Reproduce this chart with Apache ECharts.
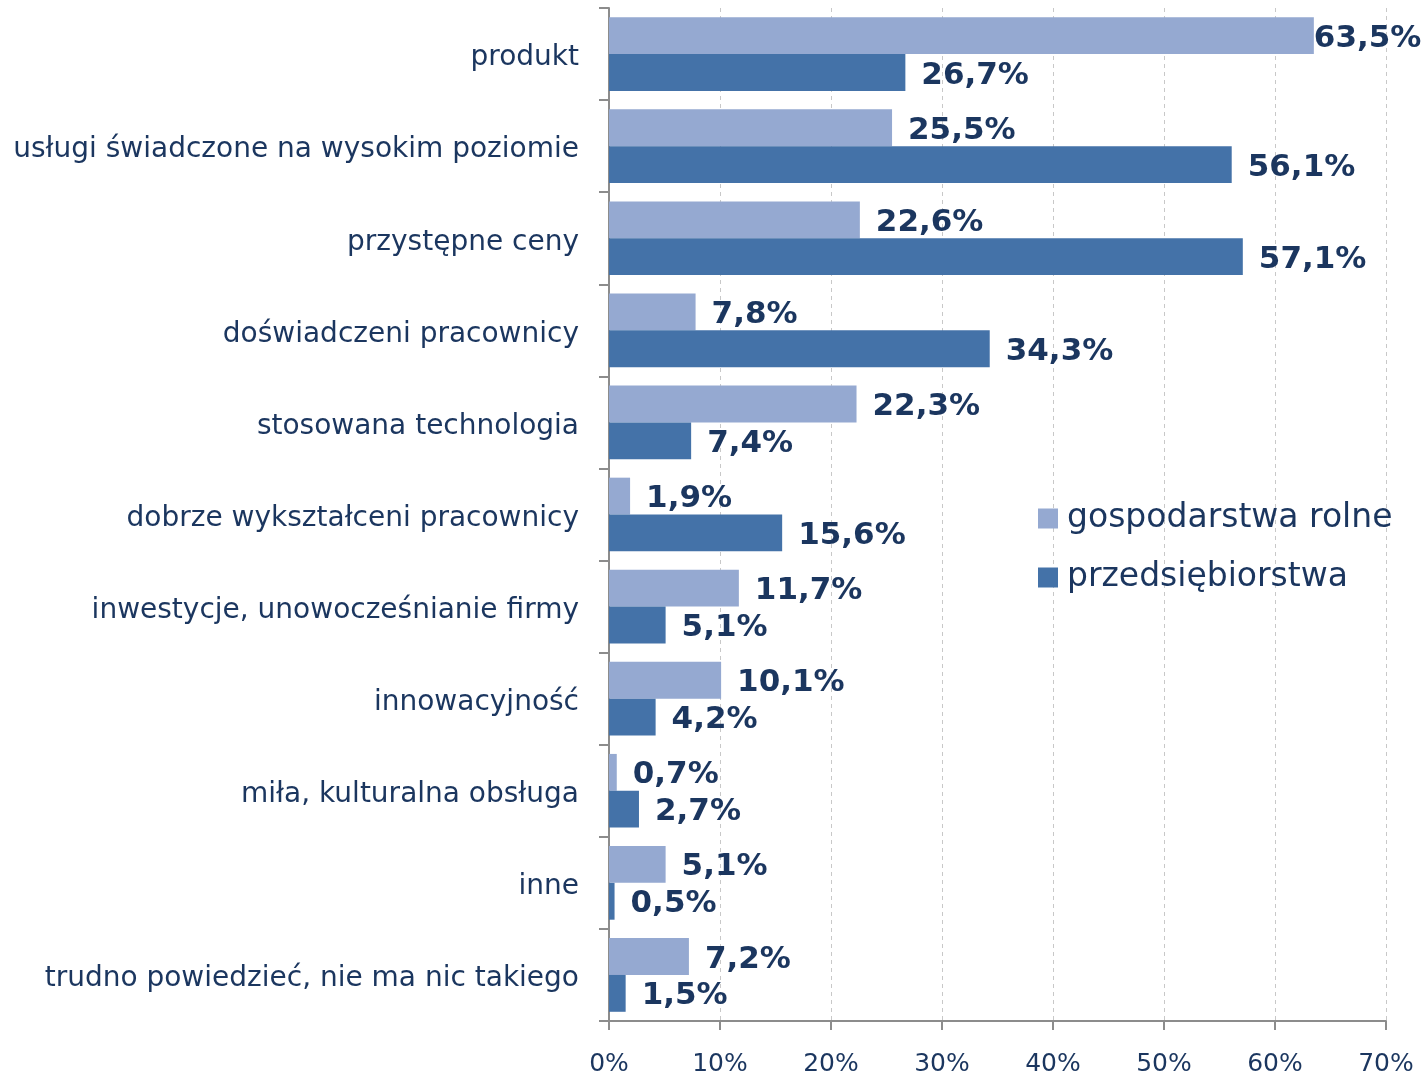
<!DOCTYPE html>
<html>
<head>
<meta charset="utf-8">
<script src="https://cdn.jsdelivr.net/npm/echarts@6/dist/echarts.min.js"></script>
<style>
  html, body { margin: 0; padding: 0; background: #fff; }
  #chart { width: 1426px; height: 1077px; }
</style>
</head>
<body>
<div id="chart"></div>
<script>
// Cechy wyróżniające – odsetek wskazań
const categories = [
  'produkt',
  'usługi świadczone na wysokim poziomie',
  'przystępne ceny',
  'doświadczeni pracownicy',
  'stosowana technologia',
  'dobrze wykształceni pracownicy',
  'inwestycje, unowocześnianie firmy',
  'innowacyjność',
  'miła, kulturalna obsługa',
  'inne',
  'trudno powiedzieć, nie ma nic takiego'
];
const seriesNames = ['gospodarstwa rolne', 'przedsiębiorstwa'];
const farms = [63.5, 25.5, 22.6, 7.8, 22.3, 1.9, 11.7, 10.1, 0.7, 5.1, 7.2];
const companies = [26.7, 56.1, 57.1, 34.3, 7.4, 15.6, 5.1, 4.2, 2.7, 0.5, 1.5];
const xTicks = [0, 10, 20, 30, 40, 50, 60, 70];

const NAVY = '#1B365F';
const LIGHT = '#95A9D1';
const DARK = '#4472A8';
const FONT = '"DejaVu Sans", Verdana, sans-serif';

const pct = v => v.toFixed(1).replace('.', ',') + '%';
const xMax = xTicks[xTicks.length - 1];

// labels that would run past the right edge sit flush against their bar
function toData(values) {
  return values.map(v => {
    const item = { value: v };
    if (v > xMax - 10) item.label = { distance: 0 };
    return item;
  });
}

const labelStyle = {
  show: true,
  position: 'right',
  distance: 16,
  offset: [0, 3],
  color: NAVY,
  fontFamily: FONT,
  fontWeight: 'bold',
  fontSize: 31,
  formatter: p => pct(p.value)
};

const chart = echarts.init(document.getElementById('chart'), null, { renderer: 'canvas' });
chart.setOption({
  animation: false,
  backgroundColor: '#ffffff',
  grid: { left: 609, right: 40, top: 8, bottom: 56, containLabel: false },
  legend: {
    orient: 'vertical',
    left: 1033,
    top: 497,
    itemWidth: 20,
    itemHeight: 20,
    itemGap: 26,
    icon: 'rect',
    textStyle: { color: NAVY, fontSize: 33, fontFamily: FONT, padding: [0, 0, 0, 4] },
    data: seriesNames
  },
  xAxis: {
    type: 'value',
    min: xTicks[0],
    max: xMax,
    interval: 10,
    axisLine: { show: true, lineStyle: { color: '#8c8c8c', width: 2 } },
    axisTick: { show: true, length: 9, lineStyle: { color: '#8c8c8c', width: 2 } },
    axisLabel: { color: NAVY, fontSize: 25, fontFamily: FONT, margin: 31, formatter: v => v + '%' },
    splitLine: { show: true, lineStyle: { color: '#c8c8c8', type: [4, 4], width: 1 } }
  },
  yAxis: {
    type: 'category',
    inverse: true,
    data: categories,
    axisLine: { show: true, lineStyle: { color: '#8c8c8c', width: 2 } },
    axisTick: { show: true, length: 10, lineStyle: { color: '#8c8c8c', width: 2 } },
    axisLabel: {
      color: NAVY,
      fontSize: 28,
      fontFamily: FONT,
      margin: 30,
      formatter: v => '{c|' + v + '}',
      rich: {
        c: { color: NAVY, fontSize: 28, fontFamily: FONT, padding: [8, 0, 0, 0] }
      }
    }
  },
  series: [
    {
      name: seriesNames[0],
      type: 'bar',
      data: toData(farms),
      itemStyle: { color: LIGHT },
      barGap: '0%',
      barCategoryGap: '20%',
      label: labelStyle
    },
    {
      name: seriesNames[1],
      type: 'bar',
      data: toData(companies),
      itemStyle: { color: DARK },
      barGap: '0%',
      barCategoryGap: '20%',
      label: labelStyle
    }
  ]
});
</script>
</body>
</html>
